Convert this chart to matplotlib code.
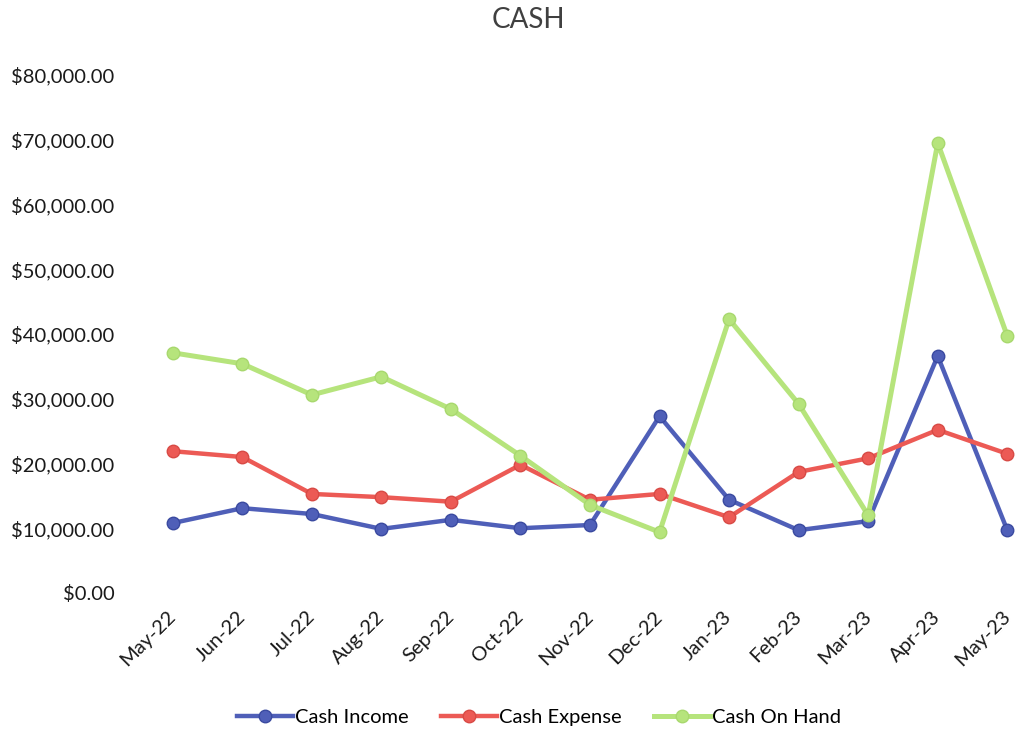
import matplotlib.pyplot as plt
from matplotlib.ticker import FuncFormatter

months = ['May-22', 'Jun-22', 'Jul-22', 'Aug-22', 'Sep-22', 'Oct-22', 'Nov-22',
          'Dec-22', 'Jan-23', 'Feb-23', 'Mar-23', 'Apr-23', 'May-23']
cash_income = [10800, 13100, 12200, 9900, 11300, 10000, 10500,
               27300, 14400, 9700, 11100, 36600, 9700]
cash_expense = [21900, 21000, 15300, 14800, 14100, 19800, 14400,
                15300, 11700, 18700, 20800, 25200, 21500]
cash_on_hand = [37100, 35400, 30600, 33400, 28400, 21200, 13600,
                9400, 42300, 29200, 12000, 69500, 39700]

plt.rcParams['font.family'] = ['Lato', 'DejaVu Sans']

fig = plt.figure(figsize=(10.17, 7.3), dpi=100)
ax = fig.add_axes([138 / 1017, 1 - 593 / 730, 1 - 138 / 1017, (593 - 75) / 730])

x = range(len(months))
ax.plot(x, cash_income, color='#4f5fb8', lw=3.2, marker='o', ms=9,
        mec='#3a4aa0', label='Cash Income')
ax.plot(x, cash_expense, color='#ec5a55', lw=3.2, marker='o', ms=9,
        mec='#d84a45', label='Cash Expense')
ax.plot(x, cash_on_hand, color='#b6e47c', lw=3.6, marker='o', ms=9,
        mec='#a8d86e', label='Cash On Hand')

ax.set_xlim(-0.5, 12.14)
ax.set_ylim(0, 80000)
ax.set_yticks(range(0, 80001, 10000))
ax.yaxis.set_major_formatter(FuncFormatter(lambda v, p: f'${v:,.2f}'))
ax.set_xticks(list(x))
ax.set_xticklabels(months, rotation=45, ha='right', va='center', rotation_mode='anchor')

for s in ax.spines.values():
    s.set_visible(False)
ax.tick_params(length=0, labelsize=14.5, colors='#1a1a1a')
ax.tick_params(axis='y', pad=17)
ax.tick_params(axis='x', pad=15)

fig.suptitle('CASH', x=0.52, y=0.99, fontsize=20, color='#404040')
fig.legend(loc='lower center', bbox_to_anchor=(0.53, -0.02), ncol=3, frameon=False,
           fontsize=14.5, handlelength=2.8, columnspacing=1.6, handletextpad=0.1)

fig.savefig('out.png', dpi=100)
